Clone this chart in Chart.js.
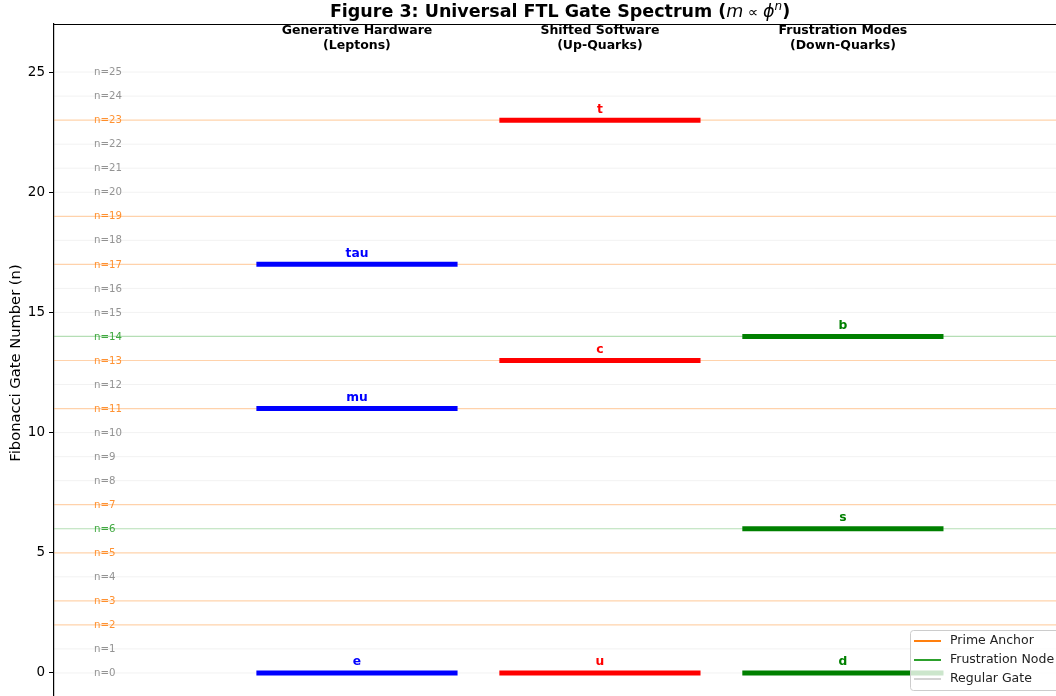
<!DOCTYPE html>
<html>
<head>
<meta charset="utf-8">
<script src="https://cdn.jsdelivr.net/npm/chart.js@4.4.1/dist/chart.umd.min.js"></script>
<style>
  html, body { margin: 0; padding: 0; background: #fff; overflow: hidden; }
  #wrap { position: absolute; left: 0; top: 0; width: 1120px; height: 720px; }
</style>
</head>
<body>
<div id="wrap"><canvas id="c" width="1120" height="720"></canvas></div>
<script>
// ---- data ----
const columnTitles = [['Generative Hardware', '(Leptons)'], ['Shifted Software', '(Up-Quarks)'], ['Frustration Modes', '(Down-Quarks)']];
const columnColors = ['#0000ff', '#ff0000', '#008000'];
const leptonNames = ['e', 'mu', 'tau'];
const leptonGates = [0, 11, 17];
const upNames = ['u', 'c', 't'];
const upGates = [0, 13, 23];
const downNames = ['d', 's', 'b'];
const downGates = [0, 6, 14];
const gateNumbers = [0,1,2,3,4,5,6,7,8,9,10,11,12,13,14,15,16,17,18,19,20,21,22,23,24,25];
const primeAnchors = [2, 3, 5, 7, 11, 13, 17, 19, 23];
const frustrationNodes = [6, 14];
const yTickValues = [0, 5, 10, 15, 20, 25];
const legendLabels = ['Prime Anchor', 'Frustration Node', 'Regular Gate'];
const legendColors = ['#ff7f0e', '#2ca02c', '#d3d3d3'];

const xMin = -1.247, xMax = 2.91;
const yMin = -1, yMax = 27;
const halfWidth = 0.414;
const gateLabelX = -1.082;

const groups = [
  { names: leptonNames, gates: leptonGates },
  { names: upNames, gates: upGates },
  { names: downNames, gates: downGates }
];

function gateKind(n) {
  if (frustrationNodes.includes(n)) return 'frust';
  if (primeAnchors.includes(n)) return 'prime';
  return 'regular';
}
const refLineColor = { prime: 'rgba(255,127,14,0.35)', frust: 'rgba(44,160,44,0.35)', regular: 'rgba(128,128,128,0.1)' };
const refTextColor = { prime: 'rgba(255,127,14,0.85)', frust: 'rgba(44,160,44,0.9)', regular: 'rgba(128,128,128,0.85)' };

const datasets = [];
gateNumbers.forEach(n => {
  const k = gateKind(n);
  datasets.push({
    data: [{ x: xMin, y: n }, { x: xMax, y: n }],
    showLine: true, pointRadius: 0, borderColor: refLineColor[k],
    borderWidth: k === 'regular' ? 1 : 1.2, fill: false, order: 5
  });
});
groups.forEach((g, ci) => {
  g.gates.forEach(v => {
    datasets.push({
      data: [{ x: ci - halfWidth, y: v }, { x: ci + halfWidth, y: v }],
      showLine: true, pointRadius: 0, borderColor: columnColors[ci],
      borderWidth: 5, borderCapStyle: 'butt', fill: false, order: 1
    });
  });
});

const FONT = "'DejaVu Sans', sans-serif";

const overlay = {
  id: 'overlay',
  afterDatasetsDraw(chart) {
    const ctx = chart.ctx;
    const xs = chart.scales.x, ys = chart.scales.y;
    const ca = chart.chartArea;
    ctx.save();
    // gate labels
    ctx.font = '10.2px ' + FONT;
    ctx.textAlign = 'left';
    ctx.textBaseline = 'middle';
    gateNumbers.forEach(n => {
      ctx.fillStyle = refTextColor[gateKind(n)];
      ctx.fillText('n=' + n, xs.getPixelForValue(gateLabelX), ys.getPixelForValue(n) + 0.5);
    });
    // particle labels
    ctx.font = 'bold 12.3px ' + FONT;
    ctx.textAlign = 'center';
    groups.forEach((g, ci) => {
      ctx.fillStyle = columnColors[ci];
      g.names.forEach((nm, i) => {
        ctx.fillText(nm, xs.getPixelForValue(ci), ys.getPixelForValue(g.gates[i] + 0.45));
      });
    });
    // column headers
    ctx.font = 'bold 12.5px ' + FONT;
    ctx.fillStyle = '#000';
    columnTitles.forEach((lines, ci) => {
      ctx.fillText(lines[0], xs.getPixelForValue(ci), 30.8);
      ctx.fillText(lines[1], xs.getPixelForValue(ci), 45.3);
    });
    // top spine
    ctx.strokeStyle = '#000';
    ctx.lineWidth = 1.2;
    ctx.beginPath();
    ctx.moveTo(ca.left, ca.top + 0.5);
    ctx.lineTo(ca.right, ca.top + 0.5);
    ctx.stroke();
    // legend
    const lx = 910, ly = 630, lw = 156, lh = 60;
    ctx.fillStyle = 'rgba(255,255,255,0.8)';
    ctx.strokeStyle = '#cccccc';
    ctx.lineWidth = 1;
    ctx.beginPath();
    ctx.roundRect(lx + 0.5, ly + 0.5, lw, lh, 3);
    ctx.fill();
    ctx.stroke();
    ctx.font = '12.5px ' + FONT;
    ctx.textAlign = 'left';
    ctx.textBaseline = 'middle';
    legendLabels.forEach((lab, i) => {
      const yy = ly + 11 + i * 19;
      ctx.strokeStyle = legendColors[i];
      ctx.lineWidth = 2;
      ctx.beginPath();
      ctx.moveTo(lx + 4, yy);
      ctx.lineTo(lx + 31, yy);
      ctx.stroke();
      ctx.fillStyle = '#222';
      ctx.fillText(lab, lx + 40, yy);
    });
    ctx.restore();
  },
  afterDraw(chart) {
    const ctx = chart.ctx;
    ctx.save();
    // y axis title
    ctx.translate(16, 363);
    ctx.rotate(-Math.PI / 2);
    ctx.font = '14.7px ' + FONT;
    ctx.fillStyle = '#000';
    ctx.textAlign = 'center';
    ctx.textBaseline = 'middle';
    ctx.fillText('Fibonacci Gate Number (n)', 0, 0);
    ctx.restore();
    // title with math part
    ctx.save();
    const parts = [
      { t: 'Figure 3: Universal FTL Gate Spectrum (', f: 'bold 17.5px ' + FONT, dy: 0 },
      { t: 'm', f: 'oblique 17.5px ' + FONT, dy: 0 },
      { t: ' \u221D ', f: '14.5px ' + FONT, dy: 0 },
      { t: '\u03D5', f: 'oblique 17.5px ' + FONT, dy: 0 },
      { t: 'n', f: 'oblique 12px ' + FONT, dy: -6.5 },
      { t: ')', f: 'bold 17.5px ' + FONT, dy: 0 }
    ];
    let total = 0;
    parts.forEach(p => { ctx.font = p.f; p.w = ctx.measureText(p.t).width; total += p.w; });
    let x = 560 - total / 2;
    ctx.fillStyle = '#000';
    ctx.textAlign = 'left';
    ctx.textBaseline = 'alphabetic';
    parts.forEach(p => { ctx.font = p.f; ctx.fillText(p.t, x, 16.5 + p.dy); x += p.w; });
    ctx.restore();
  }
};

new Chart(document.getElementById('c'), {
  type: 'scatter',
  data: { datasets },
  options: {
    responsive: false,
    animation: false,
    events: [],
    layout: { padding: { left: 0, top: 24, right: 56, bottom: 23 } },
    plugins: { legend: { display: false }, tooltip: { enabled: false }, title: { display: false } },
    scales: {
      x: { type: 'linear', min: xMin, max: xMax, display: false },
      y: {
        type: 'linear', min: yMin, max: yMax,
        afterBuildTicks: s => { s.ticks = yTickValues.map(v => ({ value: v })); },
        afterFit: s => { s.width = 54; },
        grid: { drawOnChartArea: false, drawTicks: true, tickLength: 5, tickColor: '#000', tickWidth: 1 },
        border: { display: true, color: '#000', width: 1.2 },
        ticks: { color: '#000', font: { family: 'DejaVu Sans', size: 13.5 }, padding: 4 }
      }
    }
  },
  plugins: [overlay]
});
</script>
</body>
</html>
